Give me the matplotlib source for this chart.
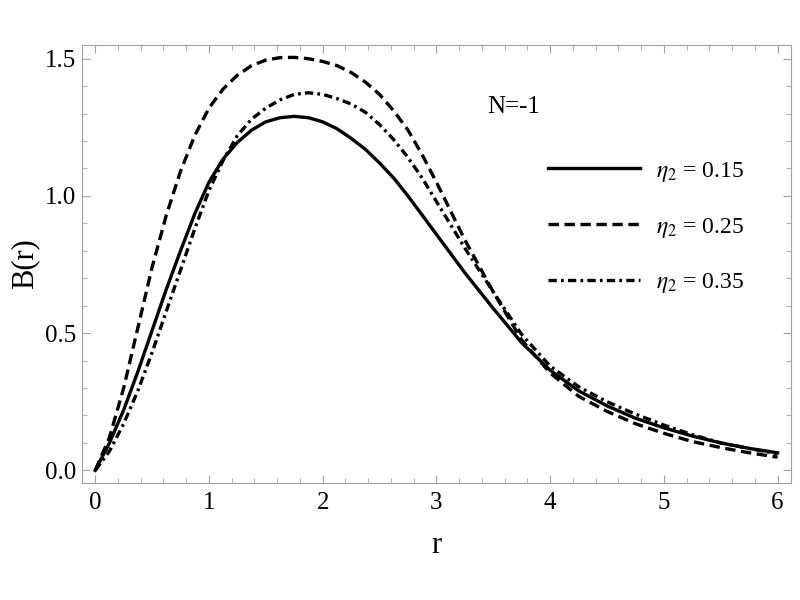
import numpy as np
import matplotlib
matplotlib.use("Agg")
import matplotlib.pyplot as plt
from matplotlib.ticker import MultipleLocator, FormatStrFormatter

plt.rcParams['font.family'] = ['Liberation Serif', 'DejaVu Serif']
plt.rcParams['mathtext.fontset'] = 'stix'
plt.rcParams['lines.scale_dashes'] = False

# radial coordinate
r = [0.0, 0.125, 0.25, 0.375, 0.5, 0.625, 0.75, 0.875, 1.0, 1.125, 1.25, 1.375,
     1.5, 1.625, 1.75, 1.875, 2.0, 2.125, 2.25, 2.375, 2.5, 2.625, 2.75, 2.875,
     3.0, 3.25, 3.5, 3.75, 4.0, 4.25, 4.5, 4.75, 5.0, 5.25, 5.5, 5.75, 6.0]

# B(r) for eta_2 = 0.15, 0.25, 0.35
b_015 = [0.0, 0.10, 0.22, 0.36, 0.51, 0.66, 0.80, 0.935, 1.05, 1.135, 1.195, 1.24,
         1.27, 1.285, 1.29, 1.285, 1.27, 1.245, 1.21, 1.17, 1.12, 1.065, 1.00, 0.93,
         0.86, 0.72, 0.59, 0.465, 0.365, 0.29, 0.235, 0.19, 0.155, 0.125, 0.10, 0.08, 0.064]
b_025 = [0.0, 0.12, 0.30, 0.52, 0.74, 0.93, 1.09, 1.22, 1.32, 1.39, 1.44, 1.475,
         1.495, 1.504, 1.505, 1.50, 1.49, 1.475, 1.45, 1.415, 1.37, 1.31, 1.24, 1.15,
         1.05, 0.84, 0.65, 0.475, 0.355, 0.27, 0.215, 0.17, 0.135, 0.105, 0.083, 0.064, 0.048]
b_035 = [0.0, 0.07, 0.17, 0.29, 0.43, 0.58, 0.73, 0.88, 1.02, 1.13, 1.22, 1.28,
         1.32, 1.35, 1.37, 1.376, 1.37, 1.355, 1.335, 1.305, 1.26, 1.205, 1.14, 1.065,
         0.98, 0.81, 0.65, 0.495, 0.38, 0.305, 0.25, 0.205, 0.165, 0.13, 0.10, 0.08, 0.06]

labels = [r'$\eta_2$ = 0.15', r'$\eta_2$ = 0.25', r'$\eta_2$ = 0.35']

fig = plt.figure(figsize=(8, 6), dpi=100)
ax = fig.add_axes([0.102, 0.1955, 0.887, 0.7295])

ax.plot(r, b_015, color='black', lw=2.4, label=labels[0])
ax.plot(r, b_025, color='black', lw=2.4, dashes=[7.5, 4], label=labels[1])
ax.plot(r, b_035, color='black', lw=2.4, dashes=[6, 3, 2, 3], label=labels[2])

ax.set_xlim(-0.12, 6.12)
ax.set_ylim(-0.045, 1.55)

ax.xaxis.set_major_locator(MultipleLocator(1))
ax.xaxis.set_minor_locator(MultipleLocator(0.2))
ax.yaxis.set_major_locator(MultipleLocator(0.5))
ax.yaxis.set_minor_locator(MultipleLocator(0.1))
ax.yaxis.set_major_formatter(FormatStrFormatter('%.1f'))

for s in ax.spines.values():
    s.set_color('#a0a0a0')
    s.set_linewidth(0.8)
ax.tick_params(which='both', direction='in', top=True, right=True, color='#a0a0a0',
               labelsize=18)
ax.tick_params(which='major', length=6, width=0.8)
ax.tick_params(which='minor', length=3.5, width=0.6)
ax.tick_params(axis='x', pad=7)
ax.tick_params(axis='y', pad=4)

ax.set_xlabel('r', fontsize=22, labelpad=12)
ax.set_ylabel('B(r)', fontsize=22, labelpad=4)

ax.text(0.571, 0.858, 'N=-1', transform=ax.transAxes, fontsize=18, va='center')

ax.legend(loc='upper left', bbox_to_anchor=(0.657, 0.738), frameon=False,
          fontsize=17, handlelength=3.9, handletextpad=0.7, labelspacing=1.35,
          borderpad=0, borderaxespad=0)

fig.savefig('out.png', dpi=100)
